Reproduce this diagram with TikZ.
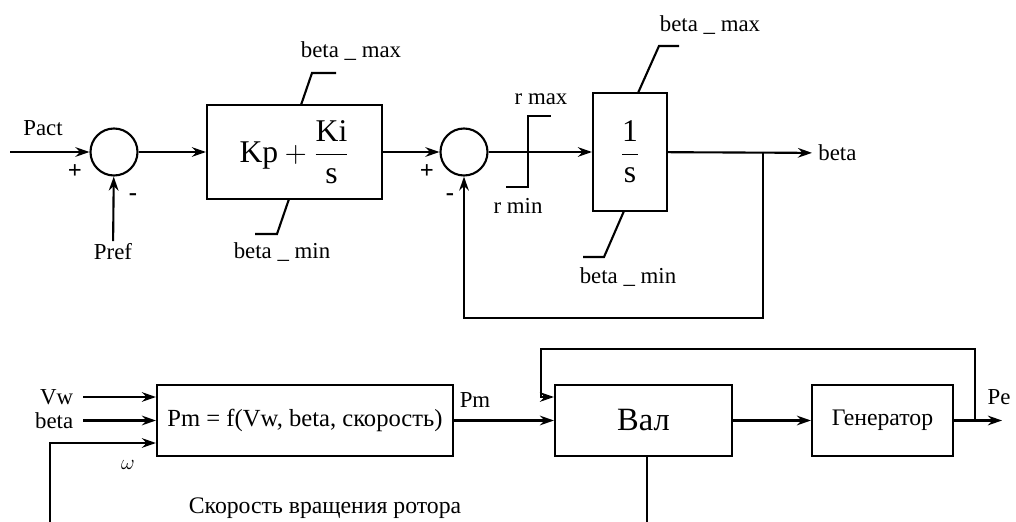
\documentclass[tikz,border=0pt]{standalone}
\usepackage{fontspec}
\usepackage{amsmath}
\setmainfont{Liberation Serif}
\usetikzlibrary{arrows.meta}

\begin{document}
\begin{tikzpicture}[x=0.2mm,y=-0.2mm,line width=1.2pt,
    >={Stealth[length=8pt,width=5.5pt]},
    sumnode/.style={draw,circle,minimum size=9.4mm,inner sep=0pt},
    block/.style={draw,rectangle,inner sep=0pt},
    lbl/.style={font=\fontsize{13}{15}\selectfont,inner sep=1pt},
    inlbl/.style={lbl,anchor=east,inner xsep=5pt},
    sign/.style={font=\fontsize{14}{15}\selectfont\bfseries,inner sep=0pt}]
    \useasboundingbox (0,0) rectangle (1016,522);
    % верхний контур: ПИ-регулятор и интегратор
    \node[sumnode] (sum1) at (114,152) {};
    \node[block,minimum width=35mm,minimum height=18.8mm] (pi) at (294.5,152)
        {\fontsize{18}{20}\selectfont $\text{Kp}+\dfrac{\text{Ki}}{\text{s}}$};
    \node[sumnode] (sum2) at (464,152) {};
    \node[block,minimum width=14.8mm,minimum height=23.6mm] (integ) at (630,152)
        {\fontsize{18}{20}\selectfont $\dfrac{\text{1}}{\text{s}}$};
    \node[lbl] (pactlbl) at (43,128) {Pact};
    \node[lbl] (preflbl) at (113,252) {Pref};
    \node[lbl,anchor=west,inner sep=3pt] (betaout) at (812,153) {beta};
    \node[sign] (plus1) at (75,172) {+};
    \node[sign] (minus1) at (133,197) {-};
    \node[sign] (plus2) at (427,172) {+};
    \node[sign] (minus2) at (450,197) {-};
    \coordinate (pact) at (10,152);
    \coordinate (branch) at (763,152);
    \draw[->] (pact) -- (sum1);
    \draw[->] (preflbl) -- (sum1);
    \draw[->] (sum1) -- (pi);
    \draw[->] (pi) -- (sum2);
    \draw[->] (sum2) -- (integ);
    \draw[->] (integ) -- (betaout);
    \draw[->] (branch) -- (763,318) -| (sum2);
    % ограничители
    \draw (301,105) -- (312,73) -- (336,73);
    \draw (289,199) -- (277,234) -- (255,234);
    \node[lbl] (bmax1) at (351,51) {beta \_ max};
    \node[lbl] (bmin1) at (282,252) {beta \_ min};
    \draw (506,187) -- (528,187) -- (528,116) -- (551,116);
    \node[lbl] (rmax) at (541,99) {r max};
    \node[lbl] (rmin) at (518,206) {r min};
    \draw (638,93) -- (659,46) -- (679,46);
    \draw (624,211) -- (604,257) -- (583,257);
    \node[lbl] (bmax2) at (710,25) {beta \_ max};
    \node[lbl] (bmin2) at (628,277) {beta \_ min};
    % нижний контур: турбина, вал, генератор
    \node[block,minimum width=59.2mm,minimum height=14.2mm] (fbox) at (305,420.5)
        {\fontsize{14}{16}\selectfont Pm = f(Vw, beta, скорость)};
    \node[block,minimum width=35.4mm,minimum height=14.2mm] (val) at (643.5,420.5)
        {\fontsize{18.5}{20}\selectfont Вал};
    \node[block,minimum width=28.2mm,minimum height=14.2mm] (gen) at (882.5,420.5)
        {\fontsize{13.5}{15}\selectfont Генератор};
    \node[inlbl] (vw) at (83,397) {Vw};
    \node[inlbl] (betain) at (83,420.5) {beta};
    \node[lbl] (omega) at (128,465) {$\omega$};
    \node[lbl] (pmlbl) at (475,400) {Pm};
    \node[lbl] (pelbl) at (999,397) {Pe};
    \node[lbl,font=\fontsize{13.5}{15}\selectfont] (caption) at (325,508)
        {Скорость вращения ротора};
    \coordinate (wbot) at (50,522);
    \coordinate (valbot) at (647,522);
    \coordinate (pebranch) at (975,420.5);
    \coordinate (peend) at (1002,420.5);
    \draw[->] (vw) -- (vw -| fbox.west);
    \draw[->] (betain) -- (betain -| fbox.west);
    \draw[->] (wbot) |- (fbox.west |- 0,443);
    \draw[->] (fbox) -- (val);
    \draw[->] (val) -- (gen);
    \draw[->] (gen) -- (peend);
    \draw[->] (pebranch) |- (541,349) |- (val.west |- 0,397);
    \draw (val.south -| valbot) -- (valbot);
\end{tikzpicture}
\end{document}
